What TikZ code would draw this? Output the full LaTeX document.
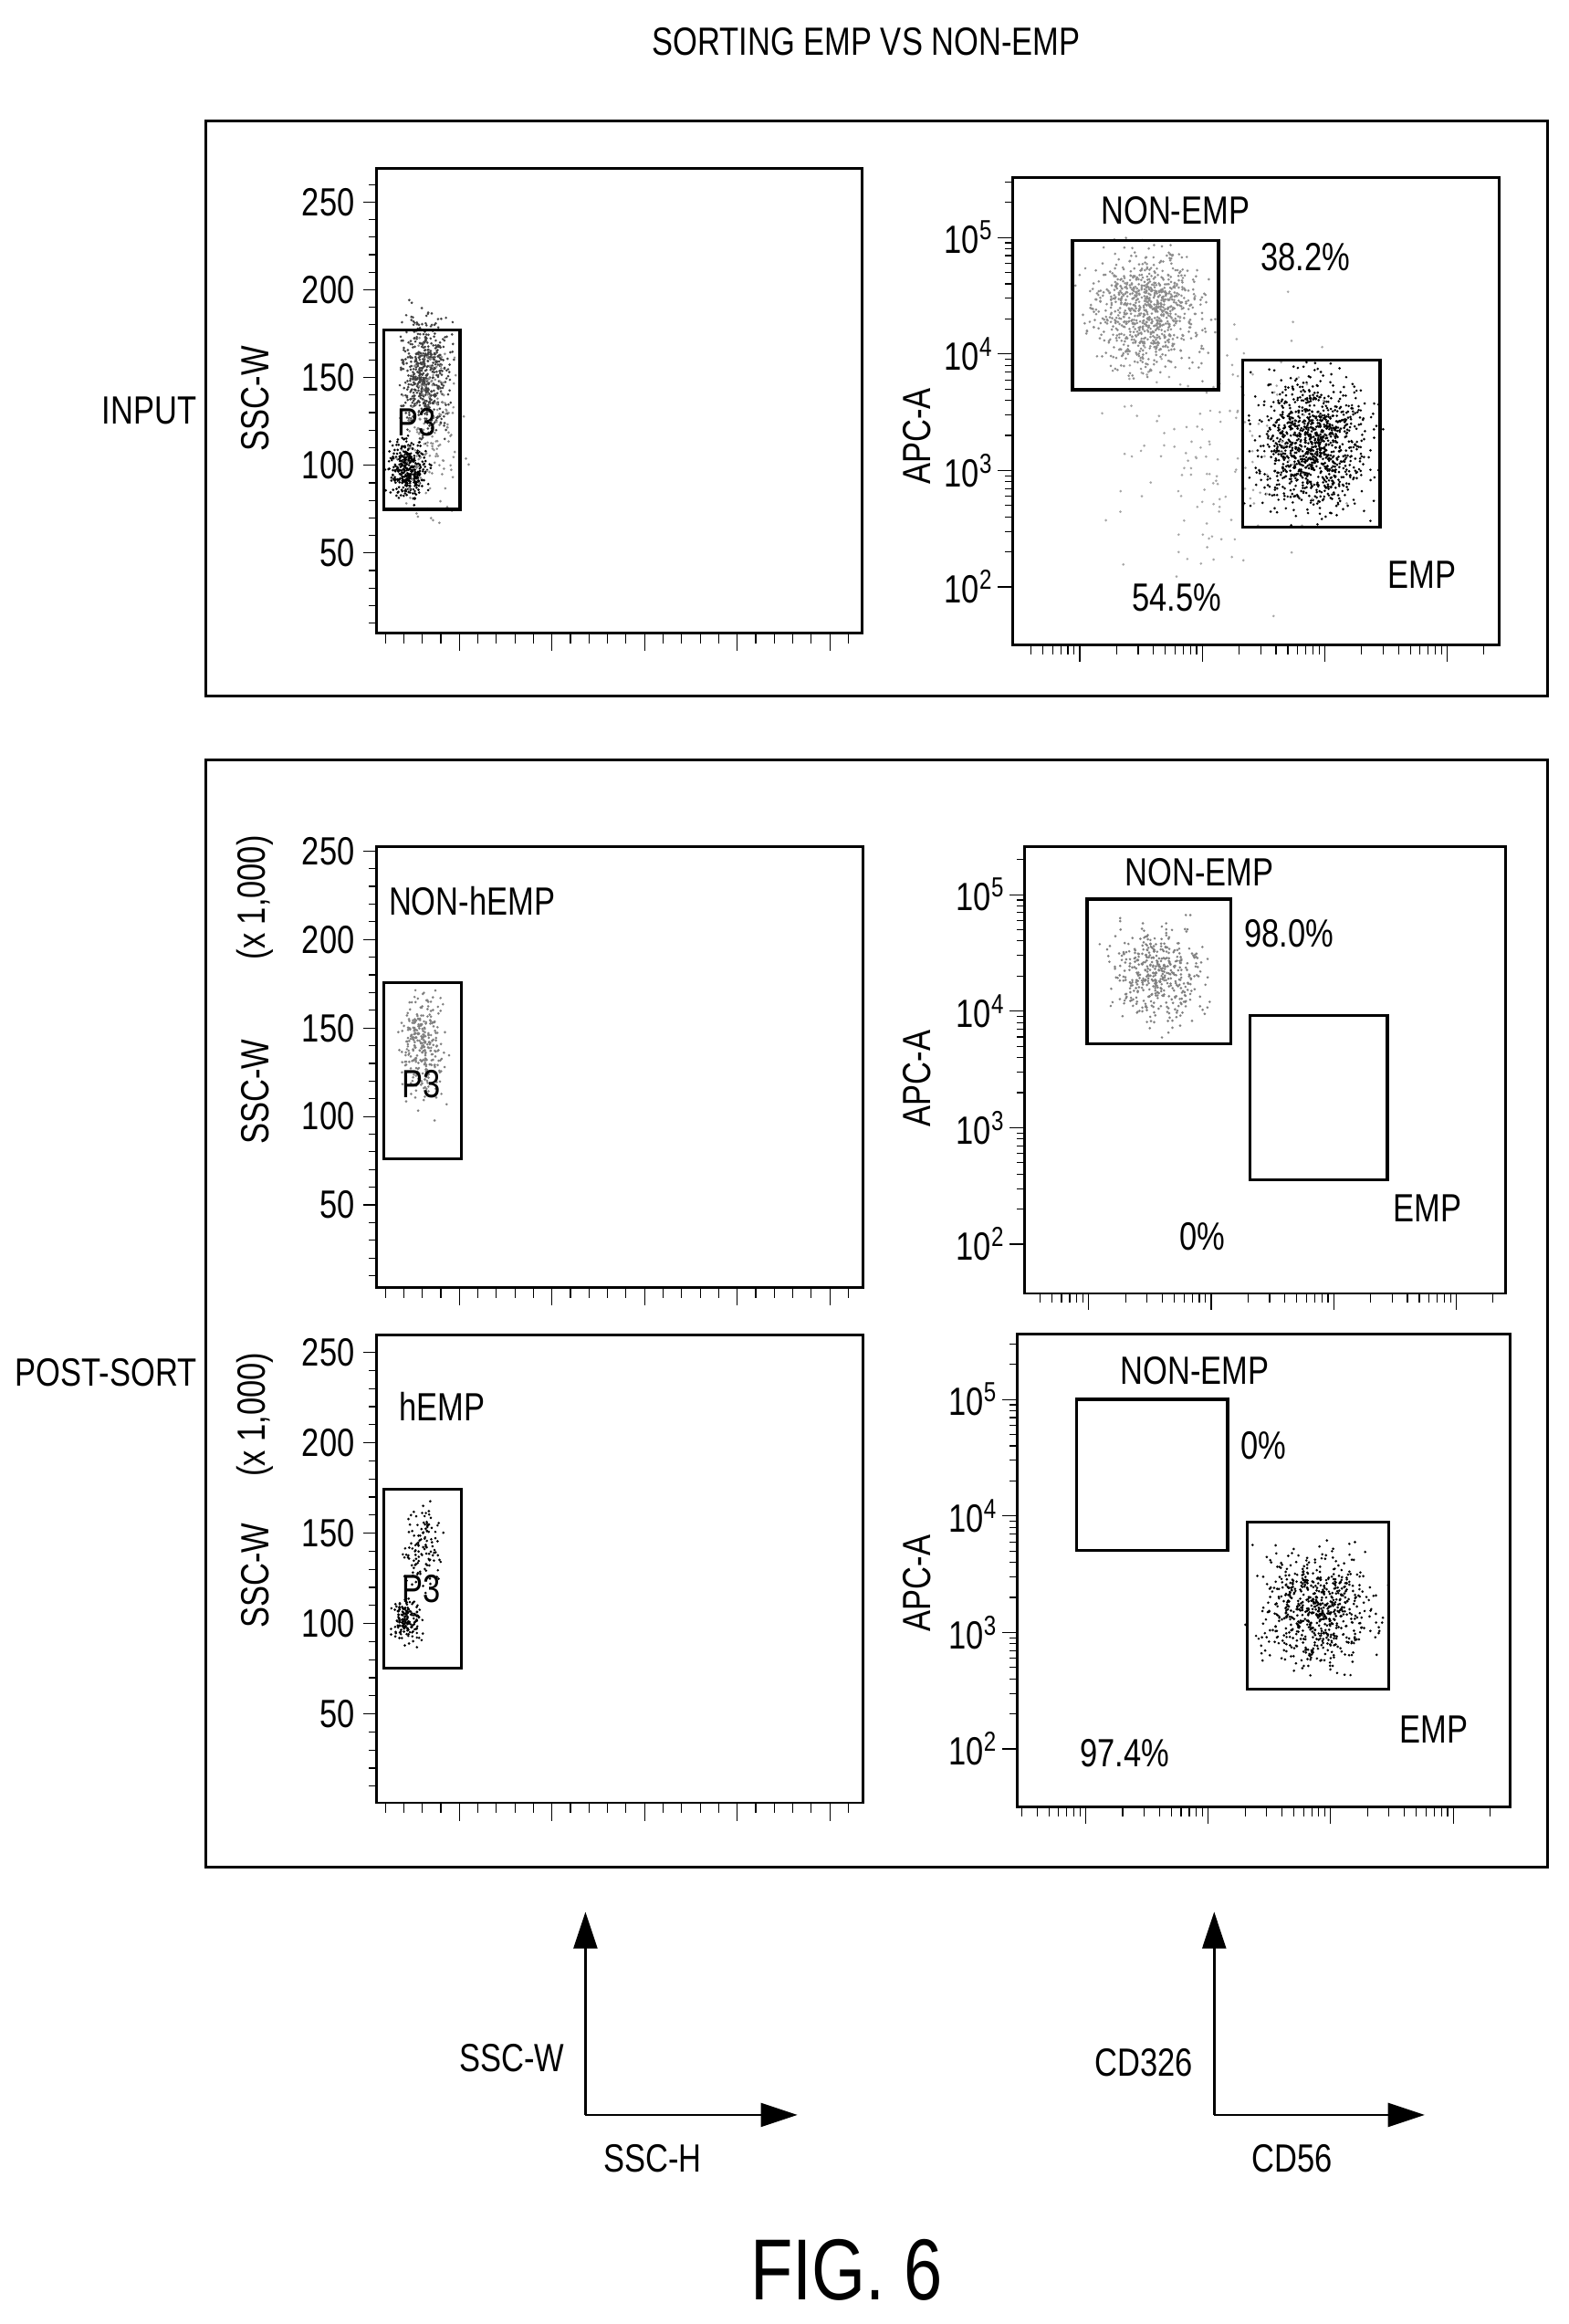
\documentclass[tikz,border=0pt]{standalone}
\usepackage{fontspec}
\setmainfont{Liberation Sans}[FakeStretch=0.8]
\usetikzlibrary{arrows.meta}

\tikzset{
  lbl/.style={font=\fontsize{15}{17}\selectfont, inner sep=1pt},
  gate/.style={line width=1.2pt},
  frame/.style={line width=1pt},
  legend arrow/.style={line width=1pt, -{Triangle[length=14pt,width=9pt]}}
}

% dots of one population: cx, cy, sx, sy, count, colour
\newcommand\blob[6]{%
  \foreach \i in {1,...,#5}{%
    \pgfmathsetmacro\xx{#1+#3*(rand+rand+rand)/1.5}%
    \pgfmathsetmacro\yy{#2+#4*(rand+rand+rand)/1.5}%
    \fill[#6] (\xx,\yy) circle (0.9);
  }}
% linear ticks: left, right, bottom, y of zero, scale, last minor
\newcommand\linaxes[6]{%
  \foreach \k in {0,...,25}{%
    \pgfmathsetmacro\xx{#1+6+\k*12.4}%
    \pgfmathparse{\xx<#2-2 ? 1 : 0}%
    \ifnum\pgfmathresult=1
      \pgfmathparse{mod(\k,5)==4 ? 1 : 0}%
      \ifnum\pgfmathresult=1 \draw (\xx,#3) -- ++(0,12); \else \draw (\xx,#3) -- ++(0,7); \fi
    \fi}
  \foreach \k in {1,...,#6}{\draw (#1,#4-\k*10*#5) -- ++(-5,0);}
  \foreach \v in {50,100,...,250}{\draw (#1,#4-\v*#5) -- ++(-9,0)
     node[lbl,anchor=east,xshift=-2] (y\v) {\v};}
}
% log ticks: left, right, top, bottom, x of first decade, y of 10^2
\newcommand\logaxes[6]{%
  \foreach \d in {-1,...,3}{\foreach \k in {1,...,9}{%
    \pgfmathsetmacro\xx{#5+82*(\d+log10(\k))}%
    \pgfmathparse{(\xx>#1+3) && (\xx<#2-3) ? 1 : 0}%
    \ifnum\pgfmathresult=1
      \ifnum\k=1 \draw (\xx,#4) -- ++(0,11); \else \draw (\xx,#4) -- ++(0,6); \fi
    \fi
    \pgfmathsetmacro\yy{#6-78*(\d+1+log10(\k))}%
    \pgfmathparse{(\yy>#3+1) && (\yy<#4-1) ? 1 : 0}%
    \ifnum\pgfmathresult=1
      \ifnum\k=1 \draw (#1,\yy) -- ++(-10,0); \else \draw (#1,\yy) -- ++(-5,0); \fi
    \fi}}
  \foreach \e in {2,...,5}{\node[lbl,anchor=east] (e\e) at (#1-11,#6-78*\e+156) {10\textsuperscript{\e}};}
}

\begin{document}
\begin{tikzpicture}[x=0.02cm,y=-0.02cm]
  \useasboundingbox (0,0) rectangle (1050,1556);
  \pgfmathsetseed{7}

  \node[lbl] (title) at (580,28) {SORTING EMP VS NON-EMP};

  % outer boxes
  \draw[frame] (138,81) rectangle (1036,466);
  \draw[frame] (138,509) rectangle (1036,1250);
  \node[lbl] (input) at (100,275) {INPUT};
  \node[lbl] (postsort) at (71,919) {POST-SORT};

  % ---- input, SSC plot
  \blob{285}{250}{12}{28}{550}{black!75}
  \blob{273}{315}{9}{14}{350}{black}
  \blob{290}{285}{15}{45}{150}{black!45}
  \draw[frame] (252,113) rectangle (577,424);
  \linaxes{252}{577}{424}{429}{1.175}{26}
  \draw[gate] (257,221) rectangle (308,341);
  \node[lbl] (p3a) at (279,283) {P3};
  \node[lbl,rotate=90] (sscwa) at (171,267) {SSC-W};

  % ---- input, APC plot
  \blob{767}{208}{26}{28}{900}{black!45}
  \blob{880}{297}{26}{32}{1100}{black}
  \blob{815}{300}{55}{60}{150}{black!35}
  \draw[frame] (678,119) rectangle (1004,432);
  \logaxes{678}{1004}{119}{432}{723}{393}
  \draw[gate] (718,161) rectangle (816,261);
  \draw[gate] (832,241) rectangle (924,353);
  \node[lbl] (nonempa) at (787,141) {NON-EMP};
  \node[lbl] (pa1) at (874,172) {38.2\%};
  \node[lbl] (empa) at (952,385) {EMP};
  \node[lbl] (pa2) at (788,400) {54.5\%};
  \node[lbl,rotate=90] (apca) at (614,292) {APC-A};

  % ---- non-hEMP, SSC plot
  \blob{283}{700}{10}{26}{300}{black!50}
  \draw[frame] (252,567) rectangle (578,862);
  \linaxes{252}{578}{862}{866}{1.185}{25}
  \draw[gate] (257,658) rectangle (309,776);
  \node[lbl] (p3b) at (282,726) {P3};
  \node[lbl] (nonhemp) at (316,603) {NON-hEMP};
  \node[lbl,rotate=90] (scaleb) at (171,601) {(x 1,000)};
  \node[lbl,rotate=90] (sscwb) at (171,731) {SSC-W};

  % ---- non-hEMP, APC plot
  \blob{775}{652}{22}{22}{450}{black!50}
  \draw[frame] (686,567) rectangle (1008,866);
  \logaxes{686}{1008}{567}{866}{729}{833}
  \draw[gate] (728,602) rectangle (824,699);
  \draw[gate] (837,680) rectangle (929,790);
  \node[lbl] (nonempb) at (803,584) {NON-EMP};
  \node[lbl] (pb1) at (863,625) {98.0\%};
  \node[lbl] (empb) at (956,809) {EMP};
  \node[lbl] (pb2) at (805,828) {0\%};
  \node[lbl,rotate=90] (apcb) at (614,722) {APC-A};

  % ---- hEMP, SSC plot
  \blob{282}{1035}{9}{18}{120}{black}
  \blob{272}{1085}{7}{10}{160}{black}
  \draw[frame] (252,894) rectangle (578,1207);
  \linaxes{252}{578}{1207}{1208}{1.21}{25}
  \draw[gate] (257,997) rectangle (309,1117);
  \node[lbl] (p3c) at (282,1064) {P3};
  \node[lbl] (hemp) at (296,942) {hEMP};
  \node[lbl,rotate=90] (scalec) at (171,947) {(x 1,000)};
  \node[lbl,rotate=90] (sscwc) at (171,1055) {SSC-W};

  % ---- hEMP, APC plot
  \blob{882}{1078}{26}{28}{700}{black}
  \draw[frame] (681,893) rectangle (1011,1210);
  \logaxes{681}{1011}{893}{1210}{727}{1171}
  \draw[gate] (721,937) rectangle (822,1038);
  \draw[gate] (835,1019) rectangle (930,1131);
  \node[lbl] (nonempc) at (800,918) {NON-EMP};
  \node[lbl] (pc1) at (846,968) {0\%};
  \node[lbl] (empc) at (960,1158) {EMP};
  \node[lbl] (pc2) at (753,1174) {97.4\%};
  \node[lbl,rotate=90] (apcc) at (614,1060) {APC-A};

  % axis legends
  \coordinate (o1) at (392,1416);
  \coordinate (u1) at (392,1280);
  \coordinate (r1) at (534,1416);
  \draw[legend arrow] (o1) -- (u1);
  \draw[legend arrow] (o1) -- (r1);
  \node[lbl,anchor=east] (leg1y) at (380,1378) {SSC-W};
  \node[lbl] (leg1x) at (437,1445) {SSC-H};

  \coordinate (o2) at (813,1416);
  \coordinate (u2) at (813,1280);
  \coordinate (r2) at (954,1416);
  \draw[legend arrow] (o2) -- (u2);
  \draw[legend arrow] (o2) -- (r2);
  \node[lbl,anchor=east] (leg2y) at (801,1381) {CD326};
  \node[lbl] (leg2x) at (865,1445) {CD56};

  \node[font=\fontsize{33}{37}\selectfont,anchor=base,inner sep=0pt,text depth=0pt] (fig) at (567,1540) {FIG. 6};
\end{tikzpicture}
\end{document}
